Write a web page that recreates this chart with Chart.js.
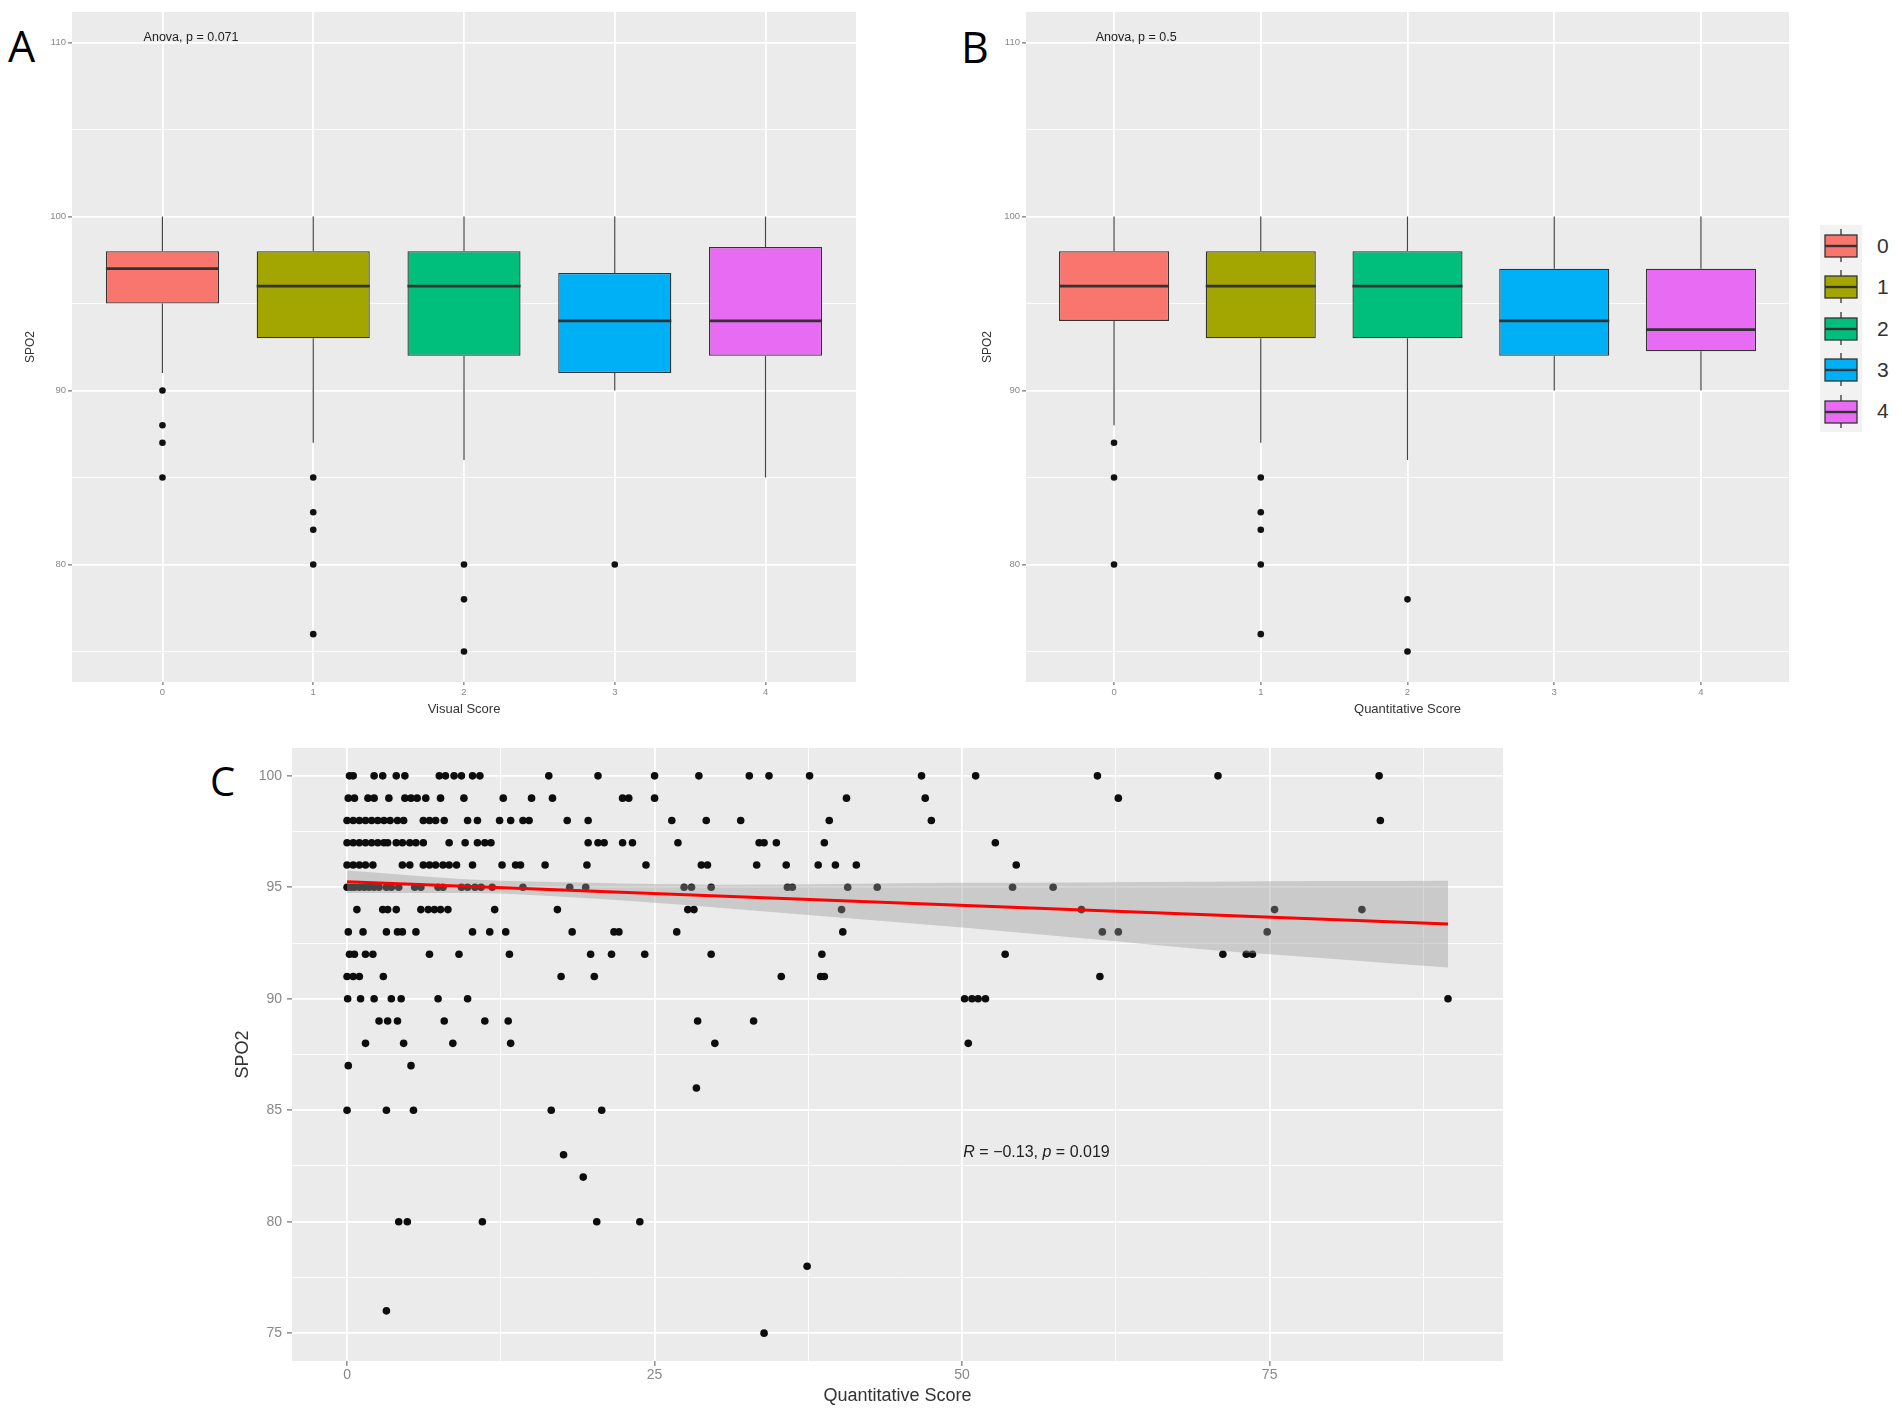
<!DOCTYPE html>
<html lang="en">
<head>
<meta charset="UTF-8">
<title>SPO2 by Visual and Quantitative Score</title>
<script src="https://cdn.jsdelivr.net/npm/chart.js"></script>
<style>
    body {
        margin: 0;
        width: 1902px;
        height: 1416px;
        position: relative;
        overflow: hidden;
        background: #fff;
        font-family: 'Liberation Sans', Arial, sans-serif;
    }

    .wrap { position: absolute; }

    .panel-letter {
        position: absolute;
        font-family: 'Open Sans', sans-serif;
        line-height: 1;
        color: #000;
    }

    #legend {
        position: absolute;
        left: 1820px;
        top: 225px;
        width: 42px;
        height: 207px;
        background: #F2F2F2;
    }

    .key { position: absolute; left: 0; }

    .key-label {
        position: absolute;
        left: 1877px;
        font-size: 21px;
        line-height: 24px;
        color: #333;
    }
</style>
</head>
<body>

<div class="panel-letter" style="left:8px; top:24px; font-size:43px;">A</div>
<div class="panel-letter" style="left:961px; top:25px; font-size:43px;">B</div>
<div class="panel-letter" style="left:210px; top:761px; font-size:40px;">C</div>

<div class="wrap" style="left:0; top:0; width:870px; height:720px;"><canvas id="chartA"></canvas></div>
<div class="wrap" style="left:950px; top:0; width:860px; height:720px;"><canvas id="chartB"></canvas></div>
<div class="wrap" style="left:200px; top:730px; width:1320px; height:686px;"><canvas id="chartC"></canvas></div>

<div id="legend"></div>

<script>
// categories shared by panels A and B
const scoreCats = [0, 1, 2, 3, 4];
const boxColors = ['#F8766D', '#A3A500', '#00BF7D', '#00B0F6', '#E76BF3'];

// Panel A - Visual Score
const visLow = [91, 87, 86, 90, 85];
const visQ1 = [95, 93, 92, 91, 92];
const visMed = [97, 96, 96, 94, 94];
const visQ3 = [98, 98, 98, 96.75, 98.25];
const visHigh = [100, 100, 100, 100, 100];
const visOutliers = [[90, 88, 87, 85], [85, 83, 82, 80, 76], [80, 78, 75], [80], []];

// Panel B - Quantitative Score (grouped)
const quaLow = [88, 87, 86, 90, 90];
const quaQ1 = [94, 93, 93, 92, 92.25];
const quaMed = [96, 96, 96, 94, 93.5];
const quaQ3 = [98, 98, 98, 97, 97];
const quaHigh = [100, 100, 100, 100, 100];
const quaOutliers = [[87, 85, 80], [85, 83, 82, 80, 76], [78, 75], [], []];

const boxTicksY = [75, 80, 85, 90, 95, 100, 105, 110];

// Panel C - SPO2 vs Quantitative Score (one list of scores per SPO2 value)
const spo2Levels = [100, 99, 98, 97, 96, 95, 94, 93, 92, 91, 90, 89, 88, 87, 86, 85, 83, 82, 80, 78, 76, 75];
const scoresAtLevel = [
    [0.2, 0.5, 2.2, 2.9, 4.0, 4.7, 7.5, 8.0, 8.7, 9.3, 10.2, 10.8, 16.4, 20.4, 25.0, 28.6, 32.7, 34.3, 37.6, 46.7, 51.1, 61.0, 70.8, 83.9],
    [0.1, 0.6, 1.7, 2.2, 3.4, 4.7, 5.2, 5.7, 6.4, 7.6, 9.5, 12.7, 15.0, 16.7, 22.4, 22.9, 25.0, 40.6, 47.0, 62.7],
    [0, 0.5, 1.0, 1.5, 2.0, 2.5, 3.0, 3.5, 4.1, 4.6, 6.2, 6.7, 7.2, 7.9, 9.8, 10.6, 12.4, 13.3, 14.3, 14.8, 17.9, 19.6, 26.4, 29.2, 32.0, 39.2, 47.5, 84.0],
    [0, 0.5, 1.0, 1.5, 2.0, 2.5, 3.0, 3.3, 4.0, 4.5, 5.1, 5.6, 6.2, 8.3, 9.6, 10.6, 11.2, 11.7, 19.6, 20.4, 20.9, 22.4, 23.2, 26.9, 33.5, 33.9, 34.9, 38.8, 52.7],
    [0, 0.5, 1.0, 1.5, 2.1, 4.5, 5.1, 6.2, 6.7, 7.2, 7.8, 8.3, 8.9, 10.2, 12.6, 13.7, 14.1, 16.1, 19.5, 24.3, 28.8, 29.3, 33.3, 35.7, 38.3, 39.7, 41.4, 54.4],
    [0, 0.3, 0.6, 1.0, 1.4, 1.8, 2.2, 2.6, 3.2, 3.6, 4.2, 5.5, 6.0, 7.4, 7.8, 9.3, 9.8, 10.4, 10.9, 11.8, 14.3, 18.1, 19.4, 27.4, 28.0, 29.6, 35.8, 36.2, 40.7, 43.1, 54.1, 57.4],
    [0.8, 2.9, 3.3, 4.0, 6.0, 6.6, 7.1, 7.6, 8.2, 12.0, 17.1, 27.7, 28.2, 40.2, 59.7, 75.4, 82.5],
    [0.1, 1.3, 3.2, 4.1, 4.5, 5.6, 10.2, 11.6, 12.9, 18.3, 21.7, 22.1, 26.8, 40.3, 61.4, 62.7, 74.8],
    [0.2, 0.6, 1.5, 2.1, 6.7, 9.1, 13.2, 19.8, 21.5, 24.2, 29.6, 38.6, 53.5, 71.2, 73.1, 73.6],
    [0, 0.5, 1.0, 2.95, 17.4, 20.1, 35.3, 38.5, 38.8, 61.2],
    [0.05, 1.1, 2.2, 3.6, 4.4, 7.4, 9.8, 50.2, 50.8, 51.3, 51.9, 89.5],
    [2.6, 3.3, 4.1, 7.9, 11.2, 13.1, 28.5, 33.05],
    [1.5, 4.6, 8.6, 13.3, 29.9, 50.5],
    [0.1, 5.2],
    [28.4],
    [0, 3.2, 5.4, 16.6, 20.7],
    [17.6],
    [19.2],
    [4.2, 4.9, 11.0, 20.3, 23.8],
    [37.4],
    [3.2],
    [33.9]
];

// regression line and its confidence band
const fitX = [0, 89.5];
const fitY = [95.25, 93.35];
const bandX = [0, 10, 20, 30, 40, 50, 60, 70, 80, 89.5];
const bandHi = [95.75, 95.35, 95.2, 95.12, 95.15, 95.2, 95.22, 95.25, 95.28, 95.3];
const bandLo = [94.75, 94.75, 94.5, 94.1, 93.65, 93.2, 92.7, 92.2, 91.8, 91.4];

const qsTicksX = [0, 12.5, 25, 37.5, 50, 62.5, 75, 87.5];
const qsTicksY = [75, 77.5, 80, 82.5, 85, 87.5, 90, 92.5, 95, 97.5, 100];

Chart.defaults.font.family = "'Liberation Sans', Arial, sans-serif";
Chart.defaults.animation = false;
Chart.defaults.plugins.legend.display = false;
Chart.defaults.plugins.tooltip.enabled = false;

// grey panel background like ggplot
const panelBg = {
    id: 'panelBg',
    beforeDraw(chart) {
        const a = chart.chartArea;
        const ctx = chart.ctx;
        ctx.save();
        ctx.fillStyle = '#EBEBEB';
        ctx.fillRect(a.left, a.top, a.width, a.height);
        ctx.restore();
    }
};

// text placed in data coordinates (parts can be italic)
const noteText = {
    id: 'noteText',
    afterDatasetsDraw(chart, args, opts) {
        const ctx = chart.ctx;
        (opts.items || []).forEach(function (item) {
            let px = chart.scales.x.getPixelForValue(item.x);
            const py = chart.scales.y.getPixelForValue(item.y);
            ctx.save();
            ctx.fillStyle = item.color;
            ctx.textBaseline = 'middle';
            ctx.textAlign = 'left';
            item.parts.forEach(function (p) {
                ctx.font = (p.italic ? 'italic ' : '') + item.size + "px 'Liberation Sans', Arial, sans-serif";
                ctx.fillText(p.text, px, py);
                px += ctx.measureText(p.text).width;
            });
            ctx.restore();
        });
    }
};

const boxHalf = 0.375; // ggplot box width 0.75

function boxChart(id, low, q1, med, q3, high, outliers, xTitle, anova, geo) {
    var whiskers = [];
    var medians = [];
    var dots = [];
    scoreCats.forEach(function (c, i) {
        whiskers.push({ x: c, y: q3[i] }, { x: c, y: high[i] }, { x: c, y: null });
        whiskers.push({ x: c, y: low[i] }, { x: c, y: q1[i] }, { x: c, y: null });
        medians.push({ x: c - boxHalf, y: med[i] }, { x: c + boxHalf, y: med[i] }, { x: c, y: null });
        outliers[i].forEach(function (v) { dots.push({ x: c, y: v }); });
    });

    return new Chart(document.getElementById(id), {
        type: 'bar',
        data: {
            datasets: [{
                type: 'bar',
                data: scoreCats.map(function (c, i) { return { x: c, y: [q1[i], q3[i]] }; }),
                backgroundColor: boxColors,
                borderColor: '#333333',
                borderWidth: 1.3,
                borderSkipped: false,
                categoryPercentage: 0.75,
                barPercentage: 1,
                order: 4
            }, {
                type: 'line',
                data: whiskers,
                borderColor: '#444444',
                borderWidth: 1.2,
                pointRadius: 0,
                spanGaps: false,
                order: 3
            }, {
                type: 'line',
                data: medians,
                borderColor: '#333333',
                borderWidth: 2.8,
                pointRadius: 0,
                spanGaps: false,
                order: 2
            }, {
                type: 'scatter',
                data: dots,
                backgroundColor: '#111111',
                borderWidth: 0,
                pointRadius: 3.3,
                order: 1
            }]
        },
        options: {
            responsive: true,
            maintainAspectRatio: false,
            layout: { padding: { top: 12, right: geo.padRight, left: 0, bottom: 0 } },
            scales: {
                x: {
                    type: 'linear',
                    min: -0.6,
                    max: 4.6,
                    offset: false,
                    afterBuildTicks: function (s) { s.ticks = scoreCats.map(function (v) { return { value: v }; }); },
                    afterFit: function (s) { s.height = 38; },
                    border: { display: false },
                    grid: { color: '#ffffff', lineWidth: 1.8, offset: false, tickLength: 3, tickColor: '#555', tickWidth: 1 },
                    ticks: { color: '#888', font: { size: 9.5 }, padding: 2, maxRotation: 0, autoSkip: false },
                    title: { display: true, text: xTitle, color: '#333', font: { size: 13 }, padding: { top: 0, bottom: 3 } }
                },
                y: {
                    min: 73.25,
                    max: 111.75,
                    afterBuildTicks: function (s) { s.ticks = boxTicksY.map(function (v) { return { value: v }; }); },
                    afterFit: function (s) { s.width = geo.yWidth; },
                    border: { display: false },
                    grid: {
                        color: '#ffffff',
                        lineWidth: function (ctx) { return ctx.tick && ctx.tick.value % 10 === 0 ? 1.8 : 0.9; },
                        tickLength: 4,
                        tickWidth: 1,
                        tickColor: function (ctx) { return ctx.tick && ctx.tick.value % 10 === 0 ? '#555' : 'rgba(0,0,0,0)'; }
                    },
                    ticks: {
                        color: '#888',
                        font: { size: 9.5 },
                        padding: 2,
                        callback: function (v) { return v % 10 === 0 ? v : ''; }
                    },
                    title: { display: true, text: 'SPO2', color: '#333', font: { size: 12 }, padding: { top: geo.yTitlePad, bottom: 0 } }
                }
            },
            plugins: {
                noteText: {
                    items: [{ x: -0.125, y: 110.3, size: 12.5, color: '#222', parts: [{ text: anova }] }]
                }
            }
        },
        plugins: [panelBg, noteText]
    });
}

boxChart('chartA', visLow, visQ1, visMed, visQ3, visHigh, visOutliers, 'Visual Score', 'Anova, p = 0.071',
    { padRight: 14, yWidth: 72, yTitlePad: 23 });
boxChart('chartB', quaLow, quaQ1, quaMed, quaQ3, quaHigh, quaOutliers, 'Quantitative Score', 'Anova, p = 0.5',
    { padRight: 21, yWidth: 76, yTitlePad: 30 });

// Panel C
var scatterPts = [];
spo2Levels.forEach(function (lvl, i) {
    scoresAtLevel[i].forEach(function (s) { scatterPts.push({ x: s, y: lvl }); });
});

new Chart(document.getElementById('chartC'), {
    type: 'scatter',
    data: {
        datasets: [{
            type: 'line',
            data: fitX.map(function (x, i) { return { x: x, y: fitY[i] }; }),
            borderColor: '#FF0000',
            borderWidth: 3,
            pointRadius: 0,
            fill: false,
            order: 1
        }, {
            type: 'line',
            data: bandX.map(function (x, i) { return { x: x, y: bandHi[i] }; }),
            borderWidth: 0,
            borderColor: 'rgba(0,0,0,0)',
            backgroundColor: 'rgba(153,153,153,0.4)',
            pointRadius: 0,
            cubicInterpolationMode: 'monotone',
            fill: '+1',
            order: 2
        }, {
            type: 'line',
            data: bandX.map(function (x, i) { return { x: x, y: bandLo[i] }; }),
            borderWidth: 0,
            borderColor: 'rgba(0,0,0,0)',
            pointRadius: 0,
            cubicInterpolationMode: 'monotone',
            fill: false,
            order: 2
        }, {
            type: 'scatter',
            data: scatterPts,
            backgroundColor: '#0d0d0d',
            borderWidth: 0,
            pointRadius: 3.8,
            order: 4
        }]
    },
    options: {
        responsive: true,
        maintainAspectRatio: false,
        layout: { padding: { top: 18, right: 17, left: 0, bottom: 0 } },
        scales: {
            x: {
                type: 'linear',
                min: -4.475,
                max: 93.97,
                afterBuildTicks: function (s) { s.ticks = qsTicksX.map(function (v) { return { value: v }; }); },
                afterFit: function (s) { s.height = 55; },
                border: { display: false },
                grid: {
                    color: '#ffffff',
                    lineWidth: function (ctx) { return ctx.tick && ctx.tick.value % 25 === 0 ? 1.8 : 0.9; },
                    tickLength: 5,
                    tickWidth: 1,
                    tickColor: function (ctx) { return ctx.tick && ctx.tick.value % 25 === 0 ? '#555' : 'rgba(0,0,0,0)'; }
                },
                ticks: {
                    color: '#888',
                    font: { size: 14 },
                    padding: 1,
                    maxRotation: 0,
                    autoSkip: false,
                    callback: function (v) { return v % 25 === 0 ? v : ''; }
                },
                title: { display: true, text: 'Quantitative Score', color: '#333', font: { size: 18 }, padding: { top: 0, bottom: 9 } }
            },
            y: {
                min: 73.75,
                max: 101.25,
                afterBuildTicks: function (s) { s.ticks = qsTicksY.map(function (v) { return { value: v }; }); },
                afterFit: function (s) { s.width = 92; },
                border: { display: false },
                grid: {
                    color: '#ffffff',
                    lineWidth: function (ctx) { return ctx.tick && ctx.tick.value % 5 === 0 ? 1.8 : 0.9; },
                    tickLength: 5,
                    tickWidth: 1,
                    tickColor: function (ctx) { return ctx.tick && ctx.tick.value % 5 === 0 ? '#555' : 'rgba(0,0,0,0)'; }
                },
                ticks: {
                    color: '#888',
                    font: { size: 14 },
                    padding: 5,
                    callback: function (v) { return v % 5 === 0 ? v : ''; }
                },
                title: { display: true, text: 'SPO2', color: '#333', font: { size: 18 }, padding: { top: 32, bottom: 0 } }
            }
        },
        plugins: {
            noteText: {
                items: [{
                    x: 50.1, y: 83.1, size: 16, color: '#222',
                    parts: [{ text: 'R', italic: true }, { text: ' = \u22120.13, ' }, { text: 'p', italic: true }, { text: ' = 0.019' }]
                }]
            }
        }
    },
    plugins: [panelBg, noteText]
});

// legend for the score groups (boxplot keys)
var legend = document.getElementById('legend');
var keyPitch = 41.4;
scoreCats.forEach(function (c, i) {
    var key = document.createElement('canvas');
    key.className = 'key';
    key.width = 42;
    key.height = 41;
    key.style.top = (i * keyPitch) + 'px';
    legend.appendChild(key);
    var ctx = key.getContext('2d');
    ctx.strokeStyle = '#333';
    ctx.lineWidth = 1.3;
    ctx.beginPath();
    ctx.moveTo(21, 4);
    ctx.lineTo(21, 37);
    ctx.stroke();
    ctx.fillStyle = boxColors[i];
    ctx.fillRect(5, 10, 32, 22);
    ctx.strokeRect(5, 10, 32, 22);
    ctx.lineWidth = 2.4;
    ctx.beginPath();
    ctx.moveTo(5, 21);
    ctx.lineTo(37, 21);
    ctx.stroke();

    var lab = document.createElement('div');
    lab.className = 'key-label';
    lab.textContent = String(c);
    lab.style.top = (225 + i * keyPitch + 20.7 - 12) + 'px';
    document.body.appendChild(lab);
});
</script>
</body>
</html>
